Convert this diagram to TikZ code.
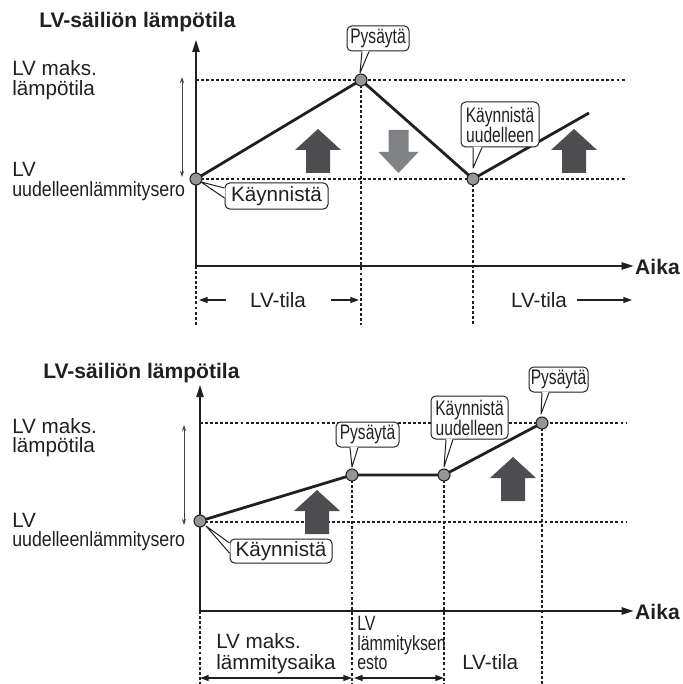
\documentclass[tikz,border=0pt]{standalone}
\usepackage{fontspec}
\setmainfont{Liberation Sans}
\newfontfamily\condA[FakeStretch=0.86]{Liberation Sans}
\newfontfamily\condB[FakeStretch=0.74]{Liberation Sans}
\newfontfamily\condC[FakeStretch=0.77]{Liberation Sans}
\usetikzlibrary{arrows.meta}
\definecolor{ink}{HTML}{231F20}
\definecolor{ptgray}{HTML}{939598}
\definecolor{darkarr}{HTML}{4D4D4F}
\definecolor{lightarr}{HTML}{808285}
\begin{document}
\begin{tikzpicture}[x=0.75pt,y=-0.75pt,
  txt/.style={inner sep=0pt, text=ink, font=\fontsize{15.5}{15}\selectfont},
  ttl/.style={inner sep=0pt, text=ink, font=\fontsize{15.8}{15}\selectfont\bfseries},
  condtxt/.style={inner sep=0pt, text=ink, font=\condA\fontsize{15.5}{15}\selectfont},
  smalltxt/.style={inner sep=0pt, text=ink, font=\condC\fontsize{15.5}{15}\selectfont},
  pt/.style={circle, draw=ink, fill=ptgray, line width=0.8pt, minimum size=9pt, inner sep=0pt},
  plotln/.style={draw=ink, line width=2.1pt, line join=round},
  axisln/.style={draw=ink, line width=1.1pt, -{Triangle[length=9pt,width=5.5pt]}},
  dotln/.style={draw=ink, line width=0.9pt, dash pattern=on 2.2pt off 1.6pt},
  spanarr/.style={draw=ink, line width=0.8pt, -{Triangle[length=6.5pt,width=4.5pt]}},
  spanboth/.style={draw=ink, line width=0.8pt, {Triangle[length=6.5pt,width=4.5pt]}-{Triangle[length=6.5pt,width=4.5pt]}},
  rangearr/.style={draw=ink!85, line width=0.6pt, {Stealth[length=4.5pt,width=3pt]}-{Stealth[length=4.5pt,width=3pt]}},
  callbox/.style={draw=ink, fill=white, rounded corners=3.5pt, line width=0.75pt, inner sep=0pt, text=ink, font=\fontsize{15.5}{15}\selectfont},
  narrowbox/.style={callbox, align=center, font=\condB\fontsize{15.8}{15}\selectfont},
  callln/.style={draw=ink, line width=0.75pt, line join=round},
  pics/blockup/.style={code={\fill[#1] (0,0) -- (23,21) -- (12,21) -- (12,44) -- (-12,44) -- (-12,21) -- (-23,21) -- cycle;}},
  pics/blockdown/.style={code={\fill[#1] (-10,0) -- (10,0) -- (10,22) -- (20,22) -- (0,43) -- (-20,22) -- (-10,22) -- cycle;}}
]
\useasboundingbox (0,0) rectangle (682,684);

% ================= TOP DIAGRAM =================
\node[ttl,anchor=base west] (title1) at (39,28) {LV-säiliön lämpötila};
\node[txt,anchor=base west] (maxA1) at (12,76) {LV maks.};
\node[txt,anchor=base west] (maxB1) at (12,96) {lämpötila};
\node[txt,anchor=base west] (difA1) at (12,177) {LV};
\node[condtxt,anchor=base west] (difB1) at (12,196) {uudelleenlämmitysero};

\coordinate (O1) at (196,266);
\coordinate (Y1) at (196,40);
\coordinate (S1) at (196,179);
\coordinate (T1) at (361,80);
\coordinate (R1) at (473,179);
\coordinate (E1) at (589,113);
\coordinate (HR1) at (625,80);
\coordinate (LR1) at (625,179);
\coordinate (F1) at (196,325);

\draw[dotln] (Y1 |- T1) -- (HR1);
\draw[dotln] (S1) -- (LR1);
\draw[dotln] (O1) -- (F1);
\draw[dotln] (T1) -- (T1 |- F1);
\draw[dotln] (R1) -- (R1 |- F1);

\node[ttl,anchor=base east] (aika1) at (680,274) {Aika};
\draw[axisln] (O1) -- ([xshift=-1pt]O1 -| aika1.west);

\draw[axisln] (O1) -- (Y1);

\coordinate (rA1) at (182,77);
\coordinate (rB1) at (182,177);
\draw[rangearr] (rA1) -- (rB1);

\draw[plotln] (S1) -- (T1) -- (R1) -- (E1);

\pic at (318,129) {blockup=darkarr};
\pic at (398.5,130) {blockdown=lightarr};
\pic at (574,129) {blockup=darkarr};

\node[pt] (s1) at (S1) {};
\node[pt] (t1) at (T1) {};
\node[pt] (r1) at (R1) {};

% callouts top
\node[narrowbox, minimum width=46.5pt, minimum height=18.75pt] (c1) at (378,38.5) {Pysäytä};
\coordinate (c1tip) at (360,73);
\fill[white] ([xshift=-12pt,yshift=0.6pt]c1.south) -- (c1tip) -- ([xshift=-6.75pt,yshift=0.6pt]c1.south) -- cycle;
\draw[callln] ([xshift=-12pt]c1.south) -- (c1tip) -- ([xshift=-6.75pt]c1.south);

\node[narrowbox, minimum width=58.5pt, minimum height=33.75pt] (c2) at (500,124.5) {Käynnistä\\uudelleen};
\coordinate (c2tip) at (473,168);
\fill[white] ([xshift=-20.25pt,yshift=0.6pt]c2.south) -- (c2tip) -- ([xshift=-13.5pt,yshift=0.6pt]c2.south) -- cycle;
\draw[callln] ([xshift=-20.25pt]c2.south) -- (c2tip) -- ([xshift=-13.5pt]c2.south);

\node[callbox, minimum width=77.25pt, minimum height=19.5pt] (c3) at (276.5,196) {Käynnistä};
\coordinate (c3tip) at (201,182);
\fill[white] ([yshift=6pt,xshift=0.6pt]c3.west) -- (c3tip) -- ([yshift=-1.5pt,xshift=0.6pt]c3.west) -- cycle;
\draw[callln] ([yshift=6pt]c3.west) -- (c3tip) -- ([yshift=-1.5pt]c3.west);

% span labels top
\node[txt] (lvt1) at (278,300) {LV-tila};
\coordinate (la1) at (226,300);
\coordinate (lb1) at (199,300);
\coordinate (la2) at (331,300);
\coordinate (lb2) at (359,300);
\draw[spanarr] (la1) -- (lb1);
\draw[spanarr] (la2) -- (lb2);
\node[txt] (lvt2) at (539,300) {LV-tila};
\coordinate (la3) at (577,300);
\coordinate (lb3) at (632,300);
\draw[spanarr] (la3) -- (lb3);

% ================= BOTTOM DIAGRAM =================
\node[ttl,anchor=base west] (title2) at (43,378) {LV-säiliön lämpötila};
\node[txt,anchor=base west] (maxA2) at (12,433) {LV maks.};
\node[txt,anchor=base west] (maxB2) at (12,452) {lämpötila};
\node[txt,anchor=base west] (difA2) at (12,527) {LV};
\node[condtxt,anchor=base west] (difB2) at (12,546) {uudelleenlämmitysero};

\coordinate (O2) at (200,611);
\coordinate (Y2) at (200,385);
\coordinate (S2) at (200,521);
\coordinate (T2) at (352,475);
\coordinate (R2) at (444,475);
\coordinate (T3) at (542,423);
\coordinate (HR2) at (627,423);
\coordinate (LR2) at (627,522);
\coordinate (F2) at (200,684);

\draw[dotln] (Y2 |- T3) -- (HR2);
\draw[dotln] (Y2 |- LR2) -- (LR2);
\draw[dotln] (O2) -- (F2);
\draw[dotln] (T2) -- (T2 |- F2);
\draw[dotln] (R2) -- (R2 |- F2);
\draw[dotln] (T3) -- (T3 |- F2);

\node[ttl,anchor=base east] (aika2) at (680,619) {Aika};
\draw[axisln] (O2) -- ([xshift=-1pt]O2 -| aika2.west);
\draw[axisln] (O2) -- (Y2);

\coordinate (rA2) at (184,425);
\coordinate (rB2) at (184,525);
\draw[rangearr] (rA2) -- (rB2);

\draw[plotln] (S2) -- (T2) -- (R2) -- (T3);

\pic at (317,490) {blockup=darkarr};
\pic at (513,457) {blockup=darkarr};

\node[pt] (s2) at (S2) {};
\node[pt] (t2) at (T2) {};
\node[pt] (r2) at (R2) {};
\node[pt] (t3) at (T3) {};

% callouts bottom
\node[callbox, minimum width=76.5pt, minimum height=18pt] (c4) at (281,551) {Käynnistä};
\coordinate (c4tip) at (206,526);
\fill[white] ([yshift=6pt,xshift=0.6pt]c4.west) -- (c4tip) -- ([yshift=-1.5pt,xshift=0.6pt]c4.west) -- cycle;
\draw[callln] ([yshift=6pt]c4.west) -- (c4tip) -- ([yshift=-1.5pt]c4.west);

\node[narrowbox, minimum width=47.25pt, minimum height=18.75pt] (c5) at (367.5,434.5) {Pysäytä};
\coordinate (c5tip) at (352,467);
\fill[white] ([xshift=-13.1pt,yshift=0.6pt]c5.south) -- (c5tip) -- ([xshift=-7.1pt,yshift=0.6pt]c5.south) -- cycle;
\draw[callln] ([xshift=-13.1pt]c5.south) -- (c5tip) -- ([xshift=-7.1pt]c5.south);

\node[narrowbox, minimum width=57.75pt, minimum height=32.25pt] (c6) at (469.5,417.5) {Käynnistä\\uudelleen};
\coordinate (c6tip) at (444,467);
\fill[white] ([xshift=-17.6pt,yshift=0.6pt]c6.south) -- (c6tip) -- ([xshift=-12.4pt,yshift=0.6pt]c6.south) -- cycle;
\draw[callln] ([xshift=-17.6pt]c6.south) -- (c6tip) -- ([xshift=-12.4pt]c6.south);

\node[narrowbox, minimum width=44.25pt, minimum height=18.75pt] (c7) at (558.5,379.5) {Pysäytä};
\coordinate (c7tip) at (541,414);
\fill[white] ([xshift=-12.4pt,yshift=0.6pt]c7.south) -- (c7tip) -- ([xshift=-7.1pt,yshift=0.6pt]c7.south) -- cycle;
\draw[callln] ([xshift=-12.4pt]c7.south) -- (c7tip) -- ([xshift=-7.1pt]c7.south);

% span labels bottom
\node[txt,anchor=base west] (mh1) at (216,648) {LV maks.};
\node[txt,anchor=base west] (mh2) at (216,669) {lämmitysaika};
\node[smalltxt,anchor=base west] (es1) at (357,630) {LV};
\node[smalltxt,anchor=base west] (es2) at (357,650) {lämmityksen};
\node[smalltxt,anchor=base west] (es3) at (357,669) {esto};
\node[txt,anchor=base west] (lvt3) at (462,669) {LV-tila};
\coordinate (sp1) at (200,678);
\coordinate (sp2) at (352,678);
\coordinate (sp3) at (354,678);
\coordinate (sp4) at (444,678);
\draw[spanboth] (sp1) -- (sp2);
\draw[spanboth] (sp3) -- (sp4);
\end{tikzpicture}
\end{document}
